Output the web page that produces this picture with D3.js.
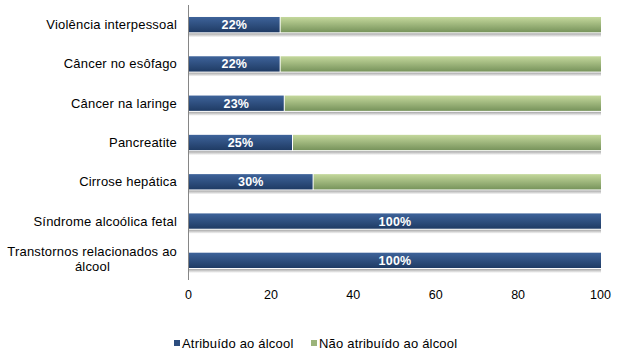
<!DOCTYPE html>
<html><head><meta charset="utf-8">
<script src="https://cdn.jsdelivr.net/npm/d3@7"></script>
<style>body{margin:0;background:#fff}svg{display:block}text{font-family:"Liberation Sans",Arial,sans-serif}</style>
</head><body><svg id="c" width="618" height="361"></svg>
<script>
const categories = ["Violência interpessoal","Câncer no esôfago","Câncer na laringe","Pancreatite","Cirrose hepática","Síndrome alcoólica fetal","Transtornos relacionados ao álcool"];
const attributed = [22,22,23,25,30,100,100];
const notAttributed = [78,78,77,75,70,0,0];
const seriesNames = ["Atribuído ao álcool","Não atribuído ao álcool"];
const ticks = [0,20,40,60,80,100];

const svg = d3.select("#c");
const x = d3.scaleLinear().domain([0,100]).range([189,601]);
const y = d3.scaleBand().domain(categories).range([5,280]).paddingInner(0.61).paddingOuter(0.305);

const defs = svg.append("defs");
function grad(id, c1, c2){
  const g = defs.append("linearGradient").attr("id",id).attr("x1",0).attr("y1",0).attr("x2",0).attr("y2",1);
  g.append("stop").attr("offset","0%").attr("stop-color",c1);
  g.append("stop").attr("offset","100%").attr("stop-color",c2);
}
grad("gb","#3e639a","#1f3b64");
grad("gg","#c4d89c","#77935b");
grad("gs","#a6a6a6","#ffffff");

const data = categories.map((c,i)=>({c, a:attributed[i], n:notAttributed[i]}));
const g = svg.append("g");
g.selectAll(".sh").data(data).join("rect")
  .attr("x",x(0)).attr("y",d=>y(d.c)+y.bandwidth()+1)
  .attr("width",x(100)-x(0)).attr("height",4).attr("fill","url(#gs)");
g.selectAll(".b").data(data).join("rect")
  .attr("x",x(0)).attr("y",d=>y(d.c)).attr("width",d=>x(d.a)-x(0)).attr("height",y.bandwidth())
  .attr("fill","url(#gb)");
g.selectAll(".gr").data(data.filter(d=>d.n>0)).join("rect")
  .attr("x",d=>x(d.a)+1).attr("y",d=>y(d.c)).attr("width",d=>x(d.a+d.n)-x(d.a)-1).attr("height",y.bandwidth())
  .attr("fill","url(#gg)");
g.selectAll(".lb").data(data).join("text")
  .attr("x",d=>(x(0)+x(d.a))/2).attr("y",d=>y(d.c)+y.bandwidth()/2+4.5)
  .attr("text-anchor","middle").attr("fill","#fff").attr("font-weight","bold").attr("font-size",12.5)
  .attr("letter-spacing",0.2)
  .text(d=>d.a+"%");

svg.append("line").attr("x1",188.5).attr("x2",188.5).attr("y1",5).attr("y2",280).attr("stroke","#868686").attr("stroke-width",1);

const cl = svg.append("g").attr("font-size",13).attr("letter-spacing",0.2).attr("fill","#000");
data.forEach(d=>{
  const cy = y(d.c)+y.bandwidth()/2;
  const t = cl.append("text").attr("text-anchor","end");
  if(d.c==="Transtornos relacionados ao álcool"){
    t.append("tspan").attr("x",177).attr("y",cy-4).text("Transtornos relacionados ao");
    t.append("tspan").attr("x",92.5).attr("y",cy+11).attr("text-anchor","middle").text("álcool");
  } else {
    t.attr("x",177).attr("y",cy+4.5).text(d.c);
  }
});

svg.append("g").selectAll("text").data(ticks).join("text")
  .attr("x",d=>x(d)-0.5).attr("y",299).attr("text-anchor","middle").attr("font-size",12.5).attr("fill","#000")
  .text(d=>d);

const colors = ["#2c4d7e","#9bb37a"];
const lx = [174,311];
const lg = svg.append("g");
seriesNames.forEach((s,i)=>{
  lg.append("rect").attr("x",lx[i]).attr("y",340).attr("width",6).attr("height",6).attr("fill",colors[i]);
  lg.append("text").attr("x",lx[i]+8).attr("y",347.5).attr("font-size",13).attr("letter-spacing",0.2).attr("fill","#000").text(s);
});
</script></body></html>
